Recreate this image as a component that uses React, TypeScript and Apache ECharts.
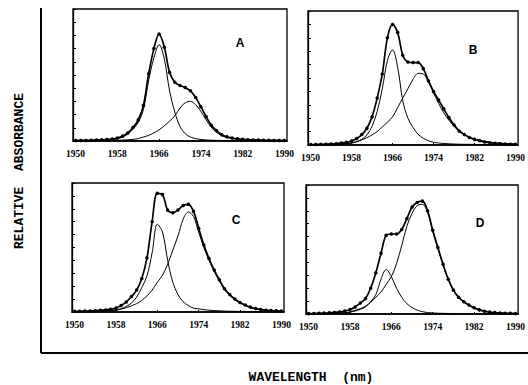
import React, { useEffect, useRef } from "react";
import * as echarts from "echarts";

// Wavelength sampling (nm)
const WAVELENGTH = [
  1950, 1951, 1952, 1953, 1954, 1955, 1956, 1957, 1958, 1959,
  1960, 1961, 1962, 1963, 1964, 1965, 1966, 1967, 1968, 1969,
  1970, 1971, 1972, 1973, 1974, 1975, 1976, 1977, 1978, 1979,
  1980, 1981, 1982, 1983, 1984, 1985, 1986, 1987, 1988, 1989,
  1990,
];
const TICKS = [1950, 1958, 1966, 1974, 1982, 1990];
const PANEL_LABELS = ["A", "B", "C", "D"];

// Panel A
const A_COMP1 = [
  0.2, 0.3, 0.3, 0.4, 0.5, 0.6, 0.8, 1.1, 1.7, 3.0,
  5.2, 9, 14, 24, 46, 63, 73, 62, 38, 22,
  11, 5.5, 3, 1.8, 1.1, 0.8, 0.6, 0.5, 0.4, 0.3,
  0.3, 0.3, 0.2, 0.2, 0.2, 0.2, 0.2, 0.1, 0.1, 0.1,
  0.1,
];
const A_COMP2 = [
  0.1, 0.1, 0.1, 0.2, 0.2, 0.3, 0.3, 0.4, 0.5, 0.7,
  0.9, 1.2, 1.8, 3.0, 4.3, 6.2, 8.5, 11.5, 15, 19,
  25, 29, 30, 27.5, 22.5, 16, 10.5, 6.5, 4, 2.6,
  1.8, 1.3, 1.0, 0.8, 0.6, 0.5, 0.4, 0.3, 0.3, 0.2,
  0.2,
];
const A_MEASURED = [
  0.3, 0.4, 0.4, 0.6, 0.7, 0.9, 1.1, 1.5, 2.2, 3.7,
  6.1, 10.2, 16, 27, 51, 70, 81, 71, 52, 44.5,
  42, 40.5, 38, 33, 26, 18.5, 12, 7.8, 4.8, 3.2,
  2.3, 1.7, 1.3, 1.0, 0.8, 0.7, 0.6, 0.5, 0.4, 0.4,
  0.3,
];

// Panel B
const B_COMP1 = [
  0.1, 0.1, 0.2, 0.2, 0.3, 0.4, 0.6, 0.9, 1.4, 2.4,
  4.2, 7.5, 14, 25, 42, 63, 71, 58, 33, 20,
  13, 8, 5, 3.2, 2, 1.5, 1.1, 0.9, 0.7, 0.6,
  0.5, 0.5, 0.4, 0.4, 0.4, 0.3, 0.3, 0.3, 0.3, 0.3,
  0.3,
];
const B_COMP2 = [
  0.2, 0.3, 0.3, 0.4, 0.5, 0.6, 0.8, 1.1, 1.6, 2.5,
  3.8, 5.5, 7.5, 10, 13.5, 17, 21, 28, 35, 42,
  49, 53.5, 53, 47, 39, 31, 24, 18.5, 14, 10.5,
  8, 6, 4.5, 3.5, 2.7, 2.1, 1.7, 1.4, 1.1, 0.9,
  0.8,
];
const B_MEASURED = [
  0.3, 0.4, 0.5, 0.6, 0.8, 1.0, 1.4, 2.0, 3.0, 4.8,
  7.8, 12.5, 21, 35, 53, 80, 90, 84, 67, 62,
  61.5, 61.5, 57, 48, 40, 33.5, 27, 20.5, 15, 10.5,
  7.8, 5.6, 4.2, 3.1, 2.3, 1.7, 1.3, 1.0, 0.8, 0.6,
  0.5,
];

// Panel C
const C_COMP1 = [
  0.2, 0.3, 0.3, 0.4, 0.5, 0.6, 0.8, 1.1, 1.6, 2.6,
  4.3, 7, 11.5, 19, 28, 46, 68, 62, 40, 23,
  13.5, 8, 5, 3, 2.4, 1.8, 1.4, 1.1, 0.9, 0.7,
  0.6, 0.5, 0.4, 0.4, 0.3, 0.3, 0.3, 0.2, 0.2, 0.2,
  0.2,
];
const C_COMP2 = [
  0.3, 0.3, 0.4, 0.4, 0.5, 0.7, 0.8, 1.1, 1.4, 2.2,
  3.3, 4.8, 6.5, 9, 12.5, 17, 23, 28.5, 37, 48,
  59, 72, 77.5, 74, 62, 50, 40, 31.5, 24, 17.3,
  13, 9.5, 7, 5, 3.3, 2.4, 1.6, 1.2, 0.9, 0.7,
  0.5,
];
const C_MEASURED = [
  0.5, 0.6, 0.7, 0.8, 1.0, 1.3, 1.6, 2.2, 3.0, 5.0,
  7.8, 12, 17, 26, 42, 70, 92, 91, 79, 77,
  79, 82.5, 83.5, 78, 65, 52, 41.5, 32.5, 25, 18,
  13.5, 10, 7.4, 5.4, 3.8, 2.7, 1.9, 1.4, 1.1, 0.9,
  0.7,
];

// Panel D
const D_COMP1 = [
  0.1, 0.2, 0.2, 0.3, 0.3, 0.4, 0.6, 0.9, 1.4, 2.3,
  3.6, 5.5, 9.5, 15, 27, 34.5, 29, 20, 13, 8,
  5, 3, 1.8, 1.1, 0.8, 0.6, 0.5, 0.4, 0.3, 0.3,
  0.2, 0.2, 0.2, 0.2, 0.1, 0.1, 0.1, 0.1, 0.1, 0.1,
  0.1,
];
const D_COMP2 = [
  0.2, 0.2, 0.3, 0.3, 0.4, 0.5, 0.7, 1.0, 1.6, 2.8,
  4.2, 6, 9, 13, 17, 23, 29, 39, 53, 68,
  78, 84, 85, 79, 64.2, 51, 38, 26.6, 18.2, 12.7,
  9.3, 6.8, 4.6, 3.0, 2.1, 1.4, 1.0, 0.7, 0.5, 0.4,
  0.3,
];
const D_MEASURED = [
  0.3, 0.4, 0.5, 0.7, 0.9, 1.2, 1.6, 2.3, 3.5, 5.5,
  8.5, 12, 20, 32, 47, 61, 62, 62, 65.5, 74,
  83, 86.5, 87.5, 80, 65, 51.5, 38.5, 27, 18.5, 13,
  9.5, 7, 4.8, 3.2, 2.2, 1.5, 1.1, 0.8, 0.6, 0.5,
  0.4,
];

const PANELS = [
  { comp1: A_COMP1, comp2: A_COMP2, measured: A_MEASURED },
  { comp1: B_COMP1, comp2: B_COMP2, measured: B_MEASURED },
  { comp1: C_COMP1, comp2: C_COMP2, measured: C_MEASURED },
  { comp1: D_COMP1, comp2: D_COMP2, measured: D_MEASURED },
];

// layout (pixels)
const GRID_BOXES = [
  { left: 73, top: 9, width: 214, height: 132 },
  { left: 308, top: 11, width: 216, height: 134 },
  { left: 72, top: 183, width: 212, height: 129 },
  { left: 306, top: 185, width: 217, height: 129 },
];
const LETTER_POS = [
  [240, 43],
  [473, 50],
  [236, 220],
  [480, 223],
];

const pairs = (ys: number[]) => WAVELENGTH.map((x, i) => [x, ys[i]]);

export default function App() {
  const ref = useRef<HTMLDivElement>(null);

  useEffect(() => {
    document.body.style.margin = "0";
    if (!ref.current) return;
    const chart = echarts.init(ref.current, undefined, { renderer: "svg" });

    const grid = GRID_BOXES.map((g) => ({
      ...g,
      show: true,
      borderColor: "#000",
      borderWidth: 1.3,
      backgroundColor: "transparent",
      containLabel: false,
    }));

    const xAxis = GRID_BOXES.map((_, i) => ({
      type: "value",
      gridIndex: i,
      min: 1949.5,
      max: 1990.5,
      axisLine: { show: true, onZero: false, lineStyle: { color: "#000", width: 1.6 } },
      axisTick: { show: true, inside: true, length: 2, customValues: TICKS, lineStyle: { color: "#000" } },
      axisLabel: {
        show: true,
        customValues: TICKS,
        formatter: (v: number) => String(v),
        color: "#000",
        fontFamily: "Liberation Serif",
        fontWeight: "bold",
        fontSize: 9.5,
        margin: 8,
      },
      splitLine: { show: false },
    }));

    const yAxis = GRID_BOXES.map((_, i) => ({
      type: "value",
      gridIndex: i,
      min: 0,
      max: 100,
      interval: 10,
      axisLine: { show: true, lineStyle: { color: "#000", width: 1.3 } },
      axisTick: { show: true, inside: true, length: 3, lineStyle: { color: "#000" } },
      axisLabel: { show: false },
      splitLine: { show: false },
    }));

    const series: any[] = [];
    PANELS.forEach((p, i) => {
      series.push({
        type: "line",
        xAxisIndex: i,
        yAxisIndex: i,
        data: pairs(p.comp1),
        smooth: 0.35,
        showSymbol: false,
        lineStyle: { color: "#000", width: 1 },
        silent: true,
      });
      series.push({
        type: "line",
        xAxisIndex: i,
        yAxisIndex: i,
        data: pairs(p.comp2),
        smooth: 0.35,
        showSymbol: false,
        lineStyle: { color: "#000", width: 1 },
        silent: true,
      });
      series.push({
        type: "line",
        xAxisIndex: i,
        yAxisIndex: i,
        data: pairs(p.measured),
        smooth: 0.35,
        symbol: "circle",
        symbolSize: 3.5,
        showSymbol: true,
        itemStyle: { color: "#000" },
        lineStyle: { color: "#000", width: 1.7 },
        silent: true,
      });
    });

    const graphic: any[] = [
      {
        type: "line",
        shape: { x1: 41, y1: 8, x2: 41, y2: 353 },
        style: { stroke: "#000", lineWidth: 2 },
      },
      {
        type: "line",
        shape: { x1: 41, y1: 353, x2: 528, y2: 353 },
        style: { stroke: "#000", lineWidth: 2 },
      },
      {
        type: "text",
        x: 19,
        y: 171,
        rotation: Math.PI / 2,
        style: {
          text: "RELATIVE  ABSORBANCE",
          font: 'bold 13px "Liberation Mono"',
          fill: "#000",
          align: "center",
          verticalAlign: "middle",
        },
      },
      {
        type: "text",
        x: 311,
        y: 377,
        style: {
          text: "WAVELENGTH  (nm)",
          font: 'bold 13px "Liberation Mono"',
          fill: "#000",
          align: "center",
          verticalAlign: "middle",
        },
      },
      ...PANEL_LABELS.map((t, i) => ({
        type: "text",
        x: LETTER_POS[i][0],
        y: LETTER_POS[i][1],
        style: {
          text: t,
          font: 'bold 12px "Liberation Sans"',
          fill: "#000",
          align: "center",
          verticalAlign: "middle",
        },
      })),
    ];

    chart.setOption({
      animation: false,
      backgroundColor: "#fff",
      grid,
      xAxis,
      yAxis,
      series,
      graphic,
    });

    return () => chart.dispose();
  }, []);

  return (
    <div
      ref={ref}
      style={{ position: "fixed", left: 0, top: 0, width: 528, height: 385 }}
    />
  );
}
